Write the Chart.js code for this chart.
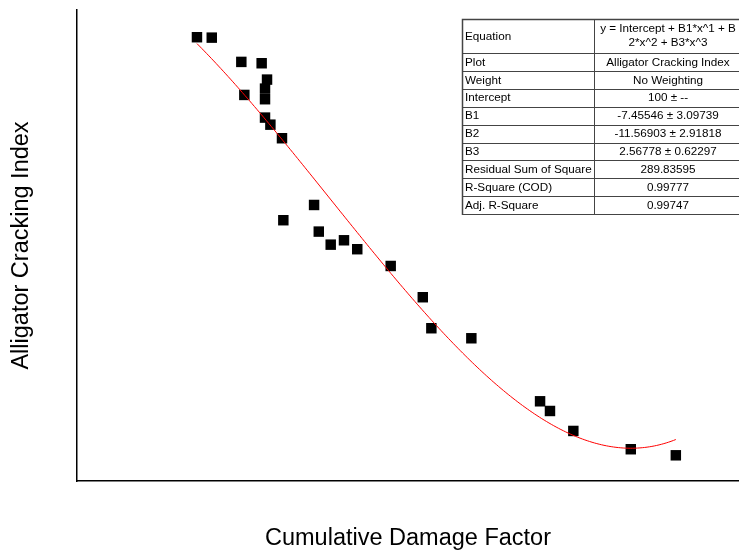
<!DOCTYPE html>
<html>
<head>
<meta charset="utf-8">
<script src="https://cdn.jsdelivr.net/npm/chart.js@4/dist/chart.umd.min.js"></script>
<style>
  html, body { margin: 0; padding: 0; background: #fff; }
  canvas { display: block; }
</style>
</head>
<body>
<canvas id="chart" width="739" height="553"></canvas>
<script>
// Measured sections: cumulative damage factor vs. alligator cracking index
const cdfValues = [0.714, 0.802, 0.978, 1.099, 1.131, 1.119, 0.996, 1.119, 1.119, 1.151,
                   1.220, 1.228, 1.411, 1.439, 1.510, 1.589, 1.668, 1.867, 2.058, 2.109,
                   2.347, 2.756, 2.815, 2.954, 3.296, 3.564];
const crackIndex = [90.47, 90.42, 87.54, 87.38, 85.44, 84.37, 83.62, 83.11, 80.93, 80.09,
                    78.48, 68.75, 70.56, 67.40, 65.85, 66.37, 65.31, 63.32, 59.61, 55.93,
                    54.74, 47.26, 46.11, 43.74, 41.57, 40.85];

// Cubic fit: y = Intercept + B1*x + B2*x^2 + B3*x^3
const fitCoefficients = [100, -7.45546, -11.56903, 2.56778];

// Axis limits
const xRange = [0, 3.94];
const yRange = [37.8, 93.7];

// Fit summary table
const tableLabels = ['Equation', 'Plot', 'Weight', 'Intercept', 'B1', 'B2', 'B3',
                     'Residual Sum of Square', 'R-Square (COD)', 'Adj. R-Square'];
const tableValues = [['y = Intercept + B1*x^1 + B', '2*x^2 + B3*x^3'],
                     'Alligator Cracking Index', 'No Weighting', '100 \u00b1 --',
                     '-7.45546 \u00b1 3.09739', '-11.56903 \u00b1 2.91818', '2.56778 \u00b1 0.62297',
                     '289.83595', '0.99777', '0.99747'];

const FONT_FAMILY = '"Liberation Sans", Arial, Helvetica, sans-serif';

// Evaluate the fitted polynomial over the span of the measured data
function fitValue(x) {
  return fitCoefficients.reduce((sum, c, k) => sum + c * Math.pow(x, k), 0);
}
const xStart = Math.min(...cdfValues);
const xEnd = Math.max(...cdfValues);
const fitPoints = [];
for (let i = 0; i <= 200; i++) {
  const x = xStart + (xEnd - xStart) * i / 200;
  fitPoints.push({ x: x, y: fitValue(x) });
}

const measured = cdfValues.map((x, i) => ({ x: x, y: crackIndex[i] }));

// Draws the parameter table in the upper-right corner of the plot
const fitTable = {
  id: 'fitTable',
  afterDraw(chart) {
    const ctx = chart.ctx;
    const left = 462, split = 594, right = 760, top = 19;
    const firstRow = 34, rowH = 17.9;
    const valueCenter = 668;
    const rows = [top, top + firstRow];
    for (let i = 1; i < tableLabels.length; i++) rows.push(top + firstRow + i * rowH);
    const bottom = rows[rows.length - 1];

    ctx.save();
    ctx.fillStyle = '#fff';
    ctx.fillRect(left, top, right - left, bottom - top);

    ctx.strokeStyle = '#444';
    ctx.lineWidth = 1;
    rows.forEach((y) => {
      const yy = Math.round(y) + 0.5;
      ctx.beginPath();
      ctx.moveTo(left, yy);
      ctx.lineTo(right, yy);
      ctx.stroke();
    });
    [left, split].forEach((x) => {
      ctx.beginPath();
      ctx.moveTo(x + 0.5, Math.round(top));
      ctx.lineTo(x + 0.5, Math.round(bottom) + 1);
      ctx.stroke();
    });
    // slightly heavier outer frame
    ctx.lineWidth = 1.5;
    ctx.beginPath();
    ctx.moveTo(left + 0.5, Math.round(bottom) + 1);
    ctx.lineTo(left + 0.5, top + 0.5);
    ctx.lineTo(right, top + 0.5);
    ctx.stroke();

    ctx.fillStyle = '#000';
    ctx.font = '11.7px ' + FONT_FAMILY;
    ctx.textBaseline = 'middle';
    tableLabels.forEach((label, i) => {
      const cy = (rows[i] + rows[i + 1]) / 2 + 0.5;
      ctx.textAlign = 'left';
      ctx.fillText(label, left + 3, cy);
      const value = tableValues[i];
      ctx.textAlign = 'center';
      if (Array.isArray(value)) {
        ctx.fillText(value[0], valueCenter, cy - 8);
        ctx.fillText(value[1], valueCenter, cy + 6.5);
      } else {
        ctx.fillText(value, valueCenter, cy);
      }
    });
    ctx.restore();
  }
};

new Chart(document.getElementById('chart'), {
  type: 'scatter',
  data: {
    datasets: [
      {
        type: 'line',
        label: 'Polynomial Fit',
        data: fitPoints,
        borderColor: '#ff0000',
        borderWidth: 1,
        pointRadius: 0,
        fill: false,
        tension: 0
      },
      {
        label: 'Alligator Cracking Index',
        data: measured,
        pointStyle: 'rect',
        pointRadius: 7.4,
        pointHoverRadius: 7.4,
        backgroundColor: '#000',
        borderColor: '#000',
        borderWidth: 0
      }
    ]
  },
  options: {
    responsive: false,
    animation: false,
    devicePixelRatio: 1,
    layout: { autoPadding: false, padding: { top: 10, right: 0, bottom: 0, left: 0 } },
    plugins: {
      legend: { display: false },
      tooltip: { enabled: false }
    },
    scales: {
      x: {
        type: 'linear',
        min: xRange[0],
        max: xRange[1],
        grid: { display: false, drawTicks: false },
        ticks: { display: false },
        border: { display: true, color: '#000', width: 1.5 },
        title: {
          display: true,
          text: 'Cumulative Damage Factor',
          color: '#000',
          font: { family: FONT_FAMILY, size: 23.5 },
          padding: { top: 43.8, bottom: 0 }
        }
      },
      y: {
        type: 'linear',
        min: yRange[0],
        max: yRange[1],
        grid: { display: false, drawTicks: false },
        ticks: { display: false },
        border: { display: true, color: '#000', width: 1.5 },
        title: {
          display: true,
          text: 'Alligator Cracking Index',
          color: '#000',
          font: { family: FONT_FAMILY, size: 23.5 },
          padding: { top: 7.9, bottom: 40.9 }
        }
      }
    }
  },
  plugins: [fitTable]
});
</script>
</body>
</html>
